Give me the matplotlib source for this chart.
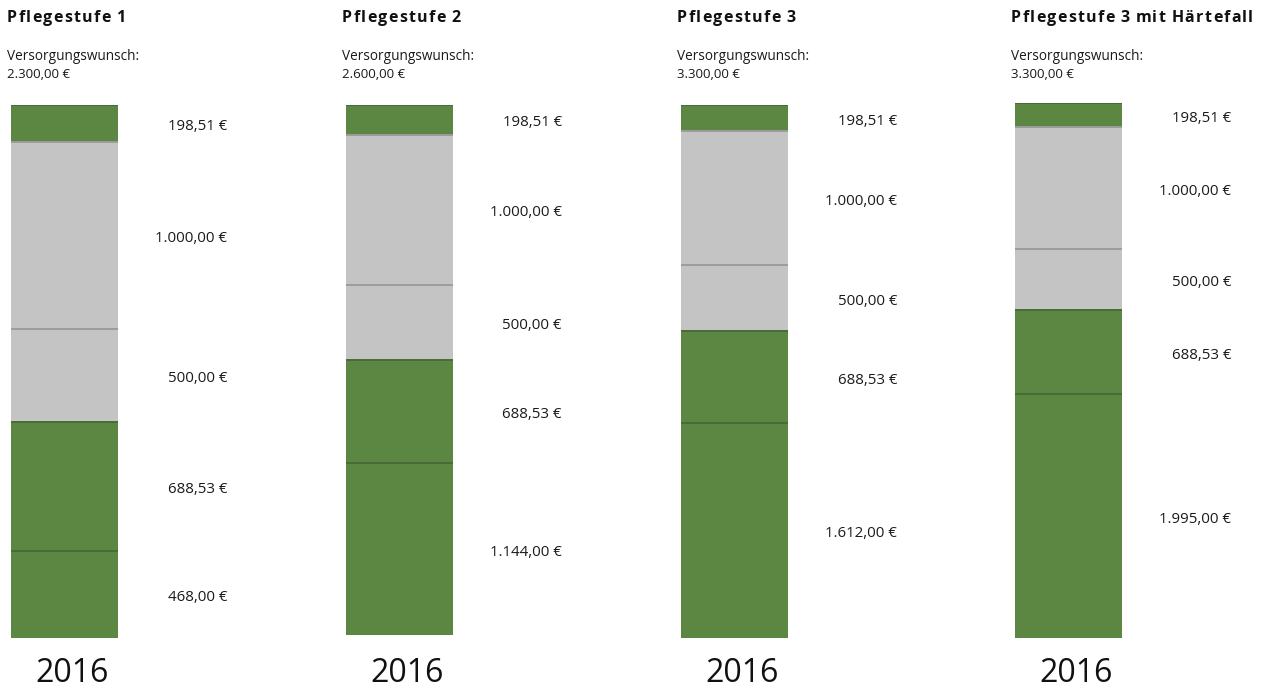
import matplotlib
matplotlib.use("Agg")
import matplotlib.pyplot as plt
import matplotlib.transforms as mtransforms

# Pflegestufen und ihre Beträge (von unten nach oben)
titles = ["Pflegestufe 1", "Pflegestufe 2", "Pflegestufe 3", "Pflegestufe 3 mit Härtefall"]
wishes = ["2.300,00 €", "2.600,00 €", "3.300,00 €", "3.300,00 €"]
year_label = "2016"

base_amounts = [468.00, 1144.00, 1612.00, 1995.00]
care_amounts = [688.53, 688.53, 688.53, 688.53]
relief_amounts = [500.00, 500.00, 500.00, 500.00]
extra_amounts = [1000.00, 1000.00, 1000.00, 1000.00]
top_amounts = [198.51, 198.51, 198.51, 198.51]

GREEN = "#5c8743"
GREEN_LINE = "#4a6b37"
GREY = "#c4c4c4"
GREY_LINE = "#9c9c9c"

plt.rcParams["font.family"] = ["Open Sans", "DejaVu Sans"]

W, H = 1265, 692
fig = plt.figure(figsize=(W / 100, H / 100), dpi=100)
renderer = fig.canvas.get_renderer()

# pixel layout of each panel
panel_left = [11, 346, 681, 1015]
bar_top = [105, 105, 105, 103]
bar_bottom = [638, 635, 638, 638]
bar_w = 107
area_w = 217


def fmt_eur(v):
    s = f"{v:,.2f}".replace(",", "X").replace(".", ",").replace("X", ".")
    return s + " €"


def spaced_text(x_px, y_px, s, spacing=1.3, **kw):
    # draw text char by char to get the letter-spaced look of the titles
    x = x_px
    for ch in s:
        t = fig.text(x / W, 1 - y_px / H, ch, **kw)
        w = t.get_window_extent(renderer).width
        if ch == " ":
            w = kw.get("fontsize", 10) * 0.28
        x += w + spacing


for i in range(4):
    left = panel_left[i]
    ax = fig.add_axes([left / W, 1 - bar_bottom[i] / H, area_w / W, (bar_bottom[i] - bar_top[i]) / H])
    # labels sit a touch below the segment centre in the original
    lbl_tr = mtransforms.offset_copy(ax.transData, fig=fig, x=0, y=-3, units="dots")
    segs = [base_amounts[i], care_amounts[i], relief_amounts[i], extra_amounts[i], top_amounts[i]]
    colors = [GREEN, GREEN, GREY, GREY, GREEN]
    sep_colors = [GREEN_LINE, GREEN_LINE, GREY_LINE, GREY_LINE]
    total = sum(segs)
    bottom = 0
    for j, v in enumerate(segs):
        ax.bar(0, v, width=bar_w, bottom=bottom, align="edge", color=colors[j], linewidth=0)
        ax.text(area_w - 1, bottom + v / 2, fmt_eur(v), ha="right", va="center", fontsize=10.8,
                color="#1a1a1a", transform=lbl_tr)
        bottom += v
        if j < len(sep_colors):
            ax.plot([0, bar_w], [bottom, bottom], color=sep_colors[j], lw=1.4, solid_capstyle="butt")
    ax.plot([0, bar_w], [total, total], color=GREEN_LINE, lw=1.4, solid_capstyle="butt")
    ax.set_xlim(0, area_w)
    ax.set_ylim(0, total)
    ax.axis("off")

    spaced_text(left - 4, 18, titles[i], fontsize=11.5, fontweight="bold", va="center", ha="left", color="#111111")
    fig.text((left - 4) / W, 1 - 57 / H, "Versorgungswunsch:", fontsize=9.8, va="center", ha="left", color="#1a1a1a")
    fig.text((left - 4) / W, 1 - 74 / H, wishes[i], fontsize=9.5, va="center", ha="left", color="#1a1a1a")
    fig.text((left + bar_w / 2 + 8) / W, 1 - 673 / H, year_label, fontsize=23, va="center", ha="center", color="#111111")

fig.savefig("out.png", dpi=100)
